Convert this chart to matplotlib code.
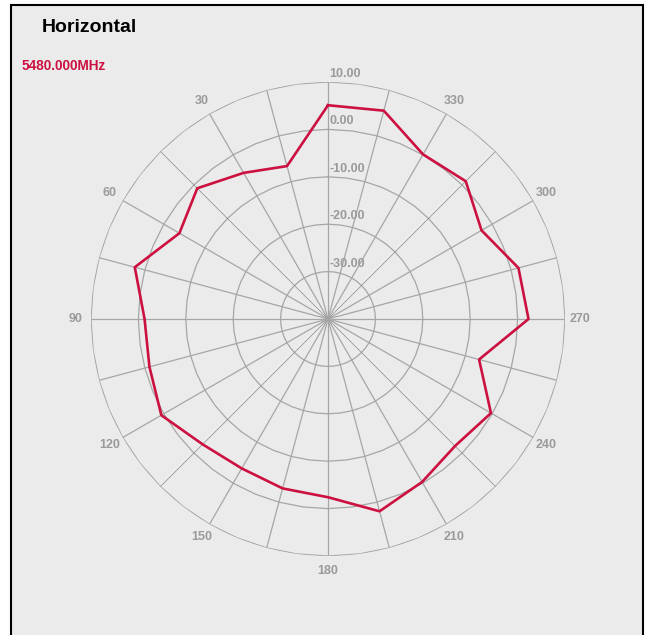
import numpy as np
import matplotlib.pyplot as plt
from matplotlib.patches import Rectangle

# pattern values (dB) every 15 degrees, counterclockwise from top
angles_deg = [0, 15, 30, 45, 60, 75, 90, 105, 120, 135, 150, 165,
              180, 195, 210, 225, 240, 255, 270, 285, 300, 315, 330, 345]
gain_db = [5.1, -6.6, -4.4, -1.0, -3.8, 2.2, -1.3, -1.0, 0.6, -2.6, -3.6, -3.0,
           -2.4, 2.0, -0.3, -2.1, -0.3, -7.0, 2.3, 1.6, -2.6, 1.1, 0.1, 5.5]
ring_levels = [10, 0, -10, -20, -30]
angle_labels = [30, 60, 90, 120, 150, 180, 210, 240, 270, 300, 330]
r_min, r_max = -40, 10

plt.rcParams['font.family'] = ['Liberation Sans', 'DejaVu Sans']
red = '#cc1040'
grid_c = '#a6a6a6'
lab_c = '#9a9a9a'

fig = plt.figure(figsize=(6.51, 6.35), dpi=100)
fig.patch.set_facecolor('white')
fig.patches.append(Rectangle((11 / 651, -0.02), (643 - 11) / 651, 1.02 - 5 / 635,
                             transform=fig.transFigure, facecolor='#ebebeb',
                             edgecolor='black', lw=1.5, zorder=-1))

cx, cy, rad = 328 / 651, (635 - 319) / 635, 237
ax = fig.add_axes([cx - rad / 651, cy - rad / 635, 2 * rad / 651, 2 * rad / 635],
                  projection='polar')
ax.set_facecolor('none')
ax.set_theta_zero_location('N')
ax.set_theta_direction(1)
ax.set_ylim(r_min, r_max)
ax.set_axis_off()

# rings (slightly faceted) and spokes
poly = np.deg2rad(np.arange(0, 360.1, 7.5))
for lv in ring_levels:
    ax.plot(poly, [lv] * len(poly), color=grid_c, lw=0.9, zorder=1)
for a in np.arange(0, 360, 15):
    thin = a % 90 == 45
    ax.plot([np.deg2rad(a)] * 2, [r_min, r_max], color='#8a8a8a' if thin else grid_c,
            lw=0.5 if thin else 0.9, zorder=1)

# radial labels
for lv in ring_levels:
    ax.annotate(f"{lv:.2f}", xy=(0, lv), xytext=(1, 8), textcoords='offset pixels',
                ha='left', va='center', fontsize=9, fontweight='bold', color=lab_c)

# angle labels
for a in angle_labels:
    ax.text(np.deg2rad(a), 13.2, str(a), ha='center', va='center',
            fontsize=9, fontweight='bold', color=lab_c)

# data
th = np.deg2rad(angles_deg + [angles_deg[0]])
ax.plot(th, gain_db + [gain_db[0]], color=red, lw=1.9, zorder=3)

fig.text(42 / 651, 1 - 27 / 635, "Horizontal", fontsize=14, fontweight='bold',
         color='black', ha='left', va='center')
fig.text(22 / 651, 1 - 66 / 635, "5480.000MHz", fontsize=9.8, fontweight='bold',
         color=red, ha='left', va='center')

fig.savefig('out.png', dpi=100)
